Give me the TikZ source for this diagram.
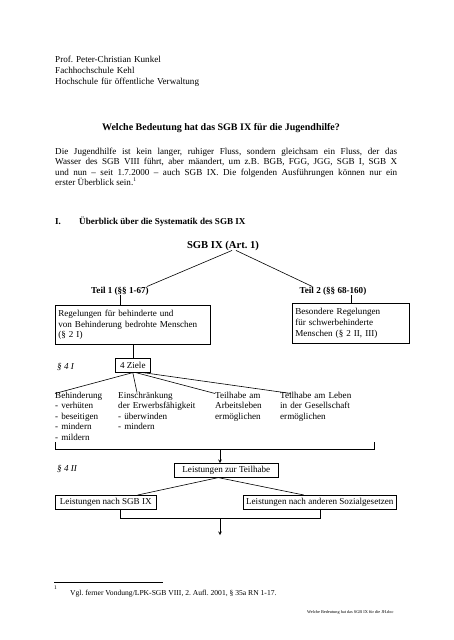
\documentclass[tikz,border=0pt]{standalone}
\usepackage{fontspec}
\setmainfont{Liberation Serif}
\usetikzlibrary{positioning,calc}
\newcommand{\bodyfont}{\fontsize{9.1}{10.6}\selectfont}
\newcommand{\notefont}{\fontsize{7.6}{9}\selectfont}
\frenchspacing

\begin{document}
\begin{tikzpicture}[
    x=1pt, y=-1pt,
    every node/.style={inner sep=0pt, font=\bodyfont},
    plain/.style={anchor=base west},
    heading/.style={font=\bodyfont\bfseries},
    box/.style={draw, line width=0.6pt, anchor=north west, inner xsep=3pt, align=left},
    conn/.style={line width=0.6pt},
    arrow/.style={line width=0.6pt, ->, >=stealth}
]
\fill[white] (0,0) rectangle (453,640);
\useasboundingbox (0,0) rectangle (453,640);

% Page head
\node[plain, align=left, text width=200pt, font=\fontsize{9.1}{11.3}\selectfont] (author) at (55,62)
    {Prof. Peter-Christian Kunkel\\Fachhochschule Kehl\\Hochschule für öffentliche Verwaltung};
\node[anchor=base, font=\fontsize{10}{12}\selectfont\bfseries] (title) at (221,130)
    {Welche Bedeutung hat das SGB IX für die Jugendhilfe?};
\node[plain, text width=342pt, align=justify] (intro) at (55,154)
    {Die Jugendhilfe ist kein langer, ruhiger Fluss, sondern gleichsam ein Fluss, der das\linebreak
     Wasser des SGB VIII führt, aber mäandert, um z.B. BGB, FGG, JGG, SGB I, SGB X\linebreak
     und nun -- seit 1.7.2000 -- auch SGB IX. Die folgenden Ausführungen können nur ein\linebreak
     erster Überblick sein.\textsuperscript{\fontsize{5.5}{6}\selectfont 1}};
\node[plain, heading] (secnr) at (55,224) {I.};
\node[plain, heading] (sec) at (79,224) {Überblick über die Systematik des SGB IX};

% Top level
\node[anchor=base, font=\fontsize{10.6}{12}\selectfont\bfseries] (sgb) at (223,248) {SGB IX (Art. 1)};
\node[anchor=base, heading] (teil1) at (120,293) {Teil 1 (§§ 1-67)};
\node[anchor=base, heading] (teil2) at (333,293) {Teil 2 (§§ 68-160)};
\node[box, text width=149pt, minimum height=39pt] (regeln) at (55,305)
    {Regelungen für behinderte und\\von Behinderung bedrohte Menschen\\(§ 2 I)};
\node[box, text width=111pt, minimum height=40pt] (schwer) at (292,303)
    {Besondere Regelungen\\für schwerbehinderte\\Menschen (§ 2 II, III)};

% 4 Ziele
\node[plain, font=\bodyfont\itshape] (par4a) at (57,369) {§ 4 I};
\node[box, minimum width=35pt, minimum height=14pt] (ziele) at (115,358) {4 Ziele};
\node[plain, text width=60pt, align=left] (ziel1) at (55,398)
    {Behinderung\\- verhüten\\- beseitigen\\- mindern\\- mildern};
\node[plain, text width=95pt, align=left] (ziel2) at (118,398)
    {Einschränkung\\der Erwerbsfähigkeit\\- überwinden\\- mindern};
\node[plain, text width=60pt, align=left] (ziel3) at (215,398)
    {Teilhabe am\\Arbeitsleben\\ermöglichen};
\node[plain, text width=80pt, align=left] (ziel4) at (280,398)
    {Teilhabe am Leben\\in der Gesellschaft\\ermöglichen};
\coordinate (brL) at (55,442);
\coordinate (brR) at (374,442);
\coordinate (brM) at (220,449);

% Leistungen
\node[plain, font=\bodyfont\itshape] (par4b) at (57,471) {§ 4 II};
\node[box, minimum width=104pt, minimum height=14pt, align=center] (teilhabe) at (174,463) {Leistungen zur Teilhabe};
\node[box, minimum width=101pt, minimum height=14pt, inner xsep=2pt] (sgbleist) at (55,495) {Leistungen nach SGB IX};
\node[box, minimum width=153pt, minimum height=14pt, inner xsep=1pt] (andere) at (243,495) {Leistungen nach anderen Sozialgesetzen};
\coordinate (fuss) at (220,518);
\coordinate (ende) at (220,535);

% Connections
\draw[conn] ([xshift=9pt]sgb.south) -- ([xshift=-2pt]teil1.north east);
\draw[conn] ([xshift=13pt]sgb.south) -- ($(teil2.north west)!0.19!(teil2.north east)$);
\draw[conn] (teil1.south) -- (teil1.south |- regeln.north);
\draw[conn] (schwer.north) -- (schwer.north |- teil2.south);
\draw[conn] (ziele.north) -- (ziele.north |- regeln.south);
\draw[conn] (ziele.south) -- ([yshift=-2pt]ziel1.north west);
\draw[conn] (ziele.south) -- ([xshift=19pt,yshift=-1pt]ziel2.north west);
\draw[conn] ([xshift=3pt]ziele.south) -- ([yshift=-2pt]ziel3.north west);
\draw[conn] ([xshift=10pt]ziele.south) -- ([xshift=11pt,yshift=-2pt]ziel4.north west);
\draw[conn] (brL) -- (brL |- brM) -- (brR |- brM) -- (brR);
\draw[arrow] (brM) -- (brM |- teilhabe.north);
\draw[conn] ([xshift=-8pt]teilhabe.south) -- ([xshift=32pt]sgbleist.north);
\draw[conn] ([xshift=-8pt]teilhabe.south) -- ([xshift=-16pt]andere.north);
\draw[conn] ([xshift=14pt]sgbleist.south) -- ([xshift=14pt]sgbleist.south |- fuss) -- (andere.south |- fuss) -- (andere.south);
\draw[arrow] (fuss) -- (ende);

% Footnote
\coordinate (ruleL) at (54,582);
\coordinate (ruleR) at (163,582);
\draw[line width=0.5pt] (ruleL) -- (ruleR);
\node[plain, font=\fontsize{5.5}{6}\selectfont] (fnmark) at (54,589) {1};
\node[plain, font=\notefont] (fntext) at (70,595) {Vgl. ferner Vondung/LPK-SGB VIII, 2. Aufl. 2001, § 35a RN 1-17.};
\node[plain, font=\fontsize{4.3}{5}\selectfont] (datei) at (307,613) {Welche Bedeutung hat das SGB IX für die JH.doc};
\end{tikzpicture}
\end{document}
